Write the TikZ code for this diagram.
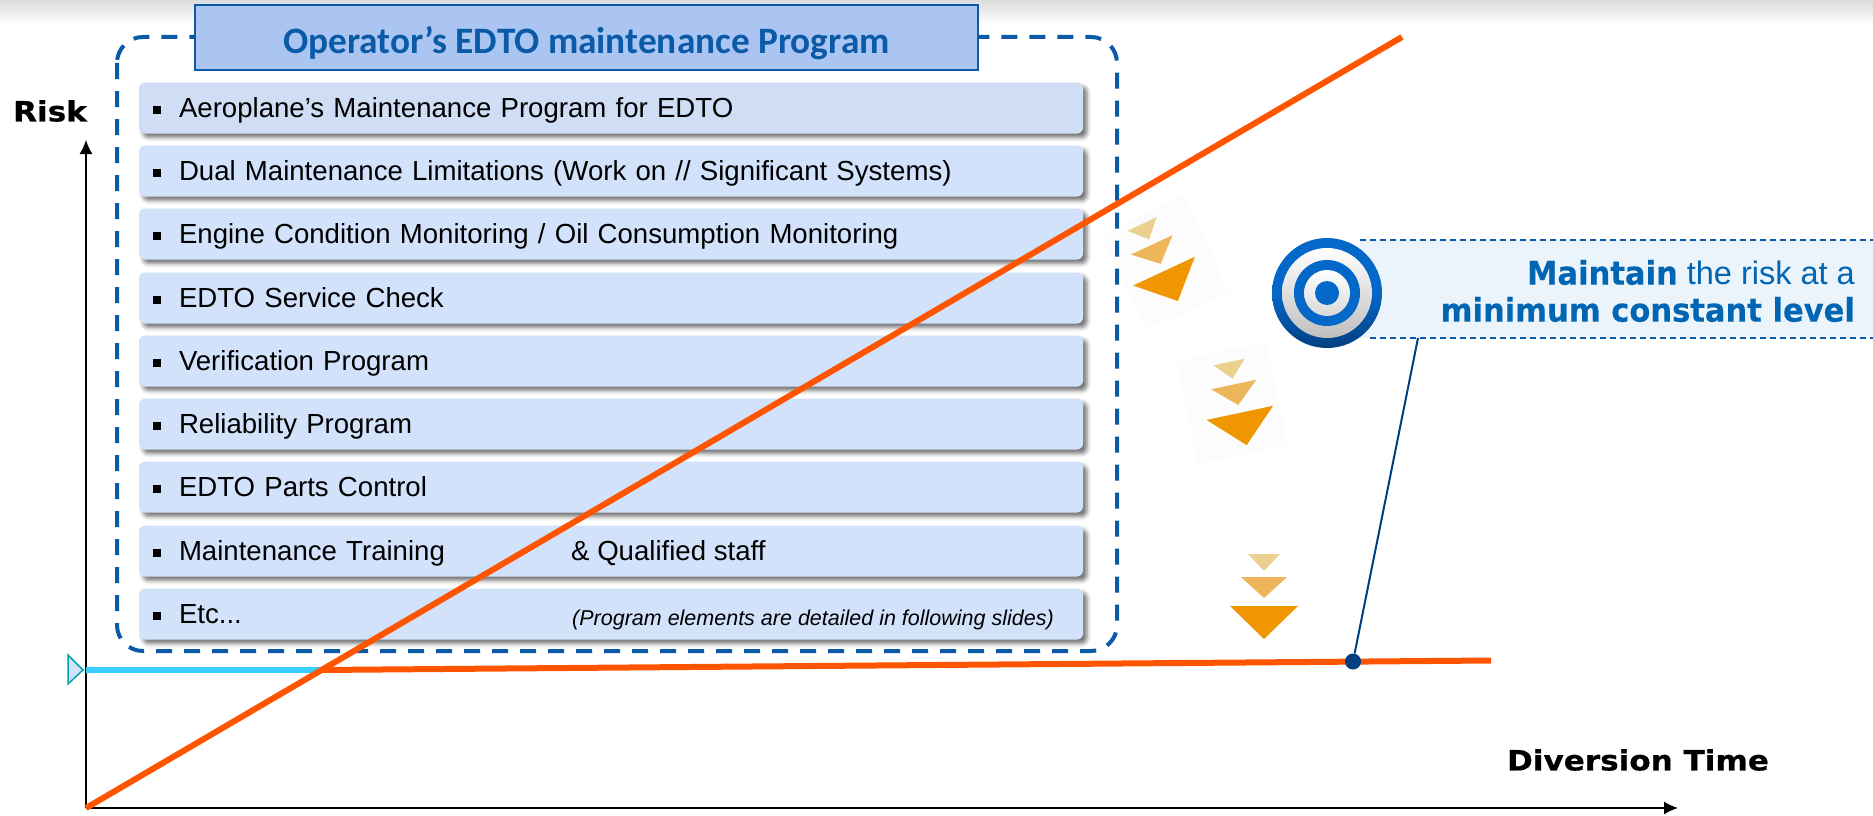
\documentclass[tikz,border=0pt]{standalone}
\usepackage{fontspec}
\setmainfont{Liberation Sans}
\newfontfamily\titlefont{Carlito}
\newfontfamily\widefont[FakeStretch=1.11,FakeBold=0.6]{DejaVu Sans Bold}
\newfontfamily\calloutfont[FakeStretch=0.94,FakeBold=0.3]{DejaVu Sans Bold}
\usetikzlibrary{shadows.blur,arrows.meta}
\definecolor{barblue}{HTML}{D3E2FB}
\definecolor{barfirst}{HTML}{CFDDF5}
\definecolor{titlefill}{HTML}{AAC5F2}
\definecolor{dashblue}{HTML}{0B5AA8}
\definecolor{riskorange}{HTML}{FF5500}
\definecolor{riskcyan}{HTML}{38CFFF}
\definecolor{markorange}{HTML}{F09600}
\definecolor{markmid}{HTML}{EEB65A}
\definecolor{marklight}{HTML}{EBD08F}
\definecolor{targetblue}{HTML}{0468C8}
\definecolor{calloutfill}{HTML}{EBF3FB}
\definecolor{textblue}{HTML}{0066B3}
\definecolor{navyline}{HTML}{003F80}
\newcommand{\itemmark}{\makebox[26pt][l]{\rule[3pt]{8pt}{8pt}}}
\tikzset{
  itembar/.style={rectangle,rounded corners=6pt,fill=barblue,minimum width=944pt,minimum height=51pt,
    inner sep=0pt,text width=916pt,text height=24pt,text depth=6pt,align=left,font=\fontsize{27.6}{30}\selectfont,
    blur shadow={shadow xshift=4pt,shadow yshift=-4pt,shadow blur radius=4pt,shadow opacity=55}},
  extratext/.style={anchor=west,inner sep=0pt,text height=24pt,text depth=6pt},
  axislabel/.style={font=\fontsize{28}{30}\selectfont\widefont},
  calloutdash/.style={dashblue,line width=1.6pt,dash pattern=on 6pt off 4pt},
  marktri/.pic={
    \fill[marklight] (-16,0) -- (16,0) -- (0,17) -- cycle;
    \fill[markmid] (-23,23) -- (23,23) -- (0,44) -- cycle;
    \fill[markorange] (-34,52) -- (34,52) -- (0,85) -- cycle;
  }
}
\begin{document}
\begin{tikzpicture}[x=1pt,y=-1pt,every path/.style={>={Latex[length=14pt,width=13pt]}}]
\useasboundingbox (0,0) rectangle (1873,816);
\shade[top color=black!14,bottom color=white] (0,0) rectangle (1873,24);
% faint paper behind the rotated marks
\fill[black!1,rotate around={25:(1165,263)}] (1119,210) rectangle (1211,316);
\fill[black!1,rotate around={12:(1232,403)}] (1186,350) rectangle (1278,456);
% program frame
\draw[dashblue,line width=4pt,dash pattern=on 16pt off 12pt,rounded corners=26pt] (117,37) rectangle (1117,651);
\node[itembar,fill=barfirst] (a) at (611,108) {\itemmark Aeroplane’s Maintenance Program for EDTO};
\node[itembar] (b) at (611,171) {\itemmark Dual Maintenance Limitations (Work on // Significant Systems)};
\node[itembar] (c) at (611,234) {\itemmark Engine Condition Monitoring / Oil Consumption Monitoring};
\node[itembar] (d) at (611,298) {\itemmark EDTO Service Check};
\node[itembar] (e) at (611,361) {\itemmark Verification Program};
\node[itembar] (f) at (611,424) {\itemmark Reliability Program};
\node[itembar] (g) at (611,487) {\itemmark EDTO Parts Control};
\node[itembar] (h) at (611,551) {\itemmark Maintenance Training};
\node[itembar] (i) at (611,614) {\itemmark Etc...};
\node[extratext,font=\fontsize{27.6}{30}\selectfont] (hnote) at (571,551) {\& Qualified staff};
\node[extratext,font=\fontsize{21.5}{24}\selectfont\itshape] (inote) at (572,616) {(Program elements are detailed in following slides)};
\node[draw=dashblue,line width=1.5pt,fill=titlefill,minimum width=783pt,minimum height=65pt,text=dashblue,
  text height=35pt,text depth=2pt,font=\fontsize{37.3}{40}\selectfont\titlefont\bfseries] (title) at (586.5,37.5) {Operator’s EDTO maintenance Program};
% axes
\coordinate (origin) at (86,808);
\coordinate (ytip) at (86,140);
\coordinate (xtip) at (1678,808);
\draw[->,line width=1.4pt] (origin) -- (ytip);
\draw[->,line width=1.4pt] (origin) -- (xtip);
\node[axislabel] (risk) at (50,111) {Risk};
\node[axislabel] (dtime) at (1638,760) {Diversion Time};
% risk lines
\coordinate (ystart) at (86,670);
\coordinate (cross) at (320,670);
\coordinate (flatend) at (1491,660.5);
\coordinate (riskend) at (1402,37);
\draw[riskcyan,line width=5.5pt] (ystart) -- (cross);
\draw[riskorange,line width=6pt] (cross) -- (flatend);
\draw[riskorange,line width=6pt] (origin) -- (riskend);
\draw[teal!70!cyan,line width=1.5pt,fill=barblue] (68,655) -- (83,670) -- (68,684) -- cycle;
% marks
\path (1142,224) pic[rotate=25] {marktri};
\path (1229,362) pic[rotate=12] {marktri};
\path (1264,554) pic {marktri};
% callout
\fill[calloutfill] (1360,240) rectangle (1873,338);
\coordinate (ctl) at (1360,240);
\coordinate (ctr) at (1873,240);
\coordinate (cbl) at (1370,338);
\coordinate (cbr) at (1873,338);
\draw[calloutdash] (ctl) -- (ctr);
\draw[calloutdash] (cbl) -- (cbr);
\node[anchor=east,inner sep=0pt,align=right,text=textblue,font=\fontsize{32.5}{37}\selectfont] (cnote) at (1855,291)
  {{\calloutfont Maintain} the risk at a\\{\calloutfont minimum constant level}};
% target
\shade[top color=targetblue,bottom color=navyline,middle color=targetblue] (1327,293) circle[radius=55];
\shade[top color=white,bottom color=black!25] (1327,293) circle[radius=45];
\fill[targetblue] (1327,293) circle[radius=33];
\shade[top color=white,bottom color=black!15] (1327,293) circle[radius=23];
\fill[targetblue] (1327,293) circle[radius=12];
% leader
\node[circle,fill=navyline,inner sep=0pt,minimum size=16pt] (dot) at (1353,661.5) {};
\coordinate (ctop) at (1418,338);
\draw[navyline,line width=2pt] (dot) -- (ctop);
\end{tikzpicture}
\end{document}
